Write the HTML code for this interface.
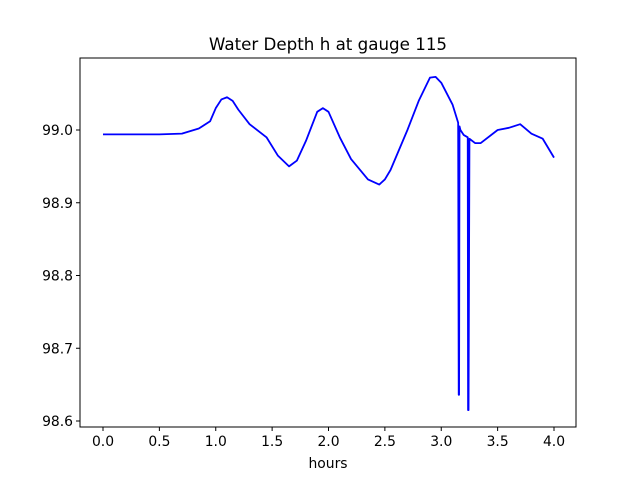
<!DOCTYPE html>
<html><head><meta charset="utf-8"><style>
body{margin:0;background:#fff;font-family:"Liberation Sans","DejaVu Sans",sans-serif}
svg text{font-family:"DejaVu Sans","Liberation Sans",sans-serif}
</style></head><body>
<svg id="c" width="640" height="480" xmlns="http://www.w3.org/2000/svg">
<rect width="640" height="480" fill="#fff"/>
<text x="328" y="50" font-size="16.7" text-anchor="middle">Water Depth h at gauge 115</text>
<g id="ax"></g>
<text x="328" y="468" font-size="13.9" text-anchor="middle">hours</text>
</svg>
<script>
const hours=[0,0.5,0.7,0.85,0.95,1.0,1.05,1.1,1.15,1.2,1.3,1.45,1.55,1.65,1.72,1.8,1.9,1.95,2.0,2.1,2.2,2.35,2.45,2.5,2.55,2.7,2.8,2.9,2.95,3.0,3.1,3.15,3.155,3.158,3.162,3.17,3.2,3.235,3.238,3.242,3.25,3.3,3.35,3.5,3.6,3.7,3.8,3.9,4.0];
const depth=[98.994,98.994,98.995,99.002,99.012,99.03,99.042,99.045,99.04,99.028,99.008,98.99,98.965,98.95,98.958,98.985,99.025,99.03,99.025,98.99,98.96,98.932,98.925,98.932,98.945,99.0,99.04,99.072,99.073,99.065,99.035,99.01,98.636,98.636,99.005,99.0,98.993,98.99,98.615,98.615,98.988,98.982,98.982,99.0,99.003,99.008,98.995,98.988,98.962];
const xTicks=[0,0.5,1.0,1.5,2.0,2.5,3.0,3.5,4.0];
const yTicks=[98.6,98.7,98.8,98.9,99.0];
const L=80,R=576,T=58,B=427;
const X=v=>103+v*112.75;
const Y=v=>130+(99.0-v)*727.5;
const ns="http://www.w3.org/2000/svg";
const g=document.getElementById('ax');
function mk(t,a){const e=document.createElementNS(ns,t);for(const k in a)e.setAttribute(k,a[k]);g.appendChild(e);return e;}
const frame=mk('rect',{x:L,y:T,width:R-L,height:B-T,fill:'none',stroke:'#000','stroke-width':1});


xTicks.forEach(v=>{
 const l=mk('line',{x1:X(v),x2:X(v),y1:B,y2:B+4,stroke:'#000'});
 
 
 const t=mk('text',{x:X(v),y:B+19,'font-size':13.9,'text-anchor':'middle'});
 t.textContent=v.toFixed(1);
 
 
});
yTicks.forEach(v=>{
 const l=mk('line',{x1:L-4,x2:L,y1:Y(v),y2:Y(v),stroke:'#000'});
 
 
 const t=mk('text',{x:L-7,y:Y(v)+5,'font-size':13.9,'text-anchor':'end'});
 t.textContent=v.toFixed(1);
 
 
});
const p=mk('polyline',{points:hours.map((h,i)=>X(h)+','+Y(depth[i])).join(' '),fill:'none',stroke:'#0000ff','stroke-width':1.8,'stroke-linejoin':'round'});


</script>
</body></html>
